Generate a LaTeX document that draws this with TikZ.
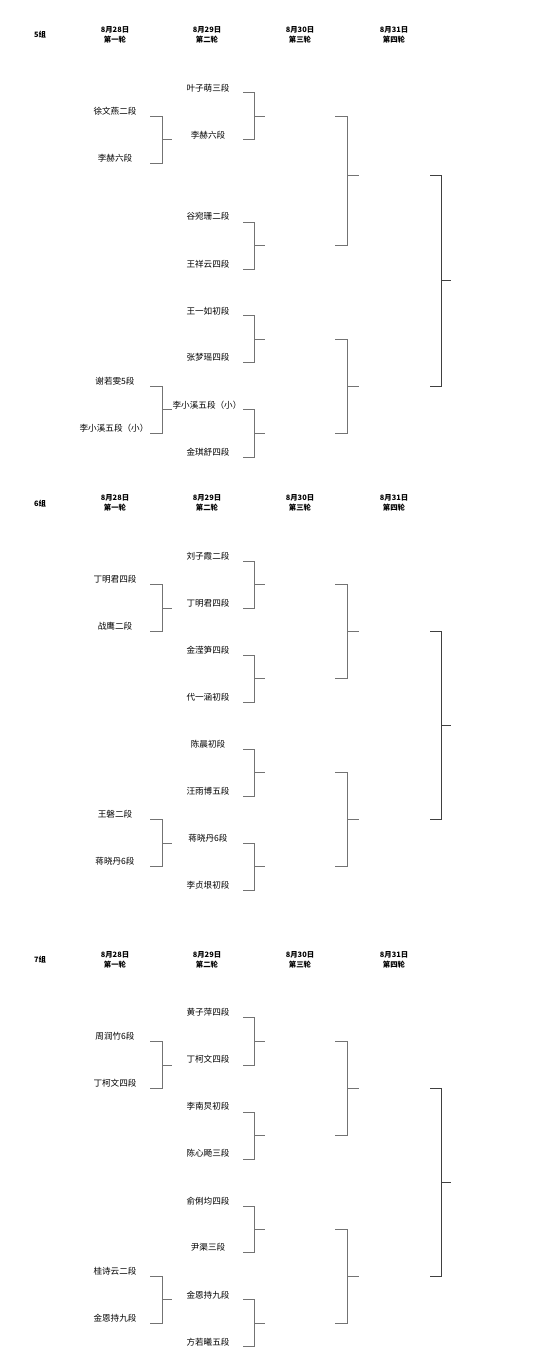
\documentclass[tikz,border=0pt]{standalone}
\usepackage{fontspec}
\newfontfamily\cjk{Noto Sans CJK SC}
\begin{document}
\begin{tikzpicture}[x=1pt,y=-1pt,
  nm/.style={font=\cjk\fontsize{8.6}{9}\selectfont, inner sep=0pt, text=black},
  hd/.style={font=\cjk\bfseries\fontsize{7.4}{10}\selectfont, inner sep=0pt, align=center},
  br/.style={draw=black!55, line width=0.8pt},
  brd/.style={draw=black!75, line width=0.9pt}]
\useasboundingbox (0,0) rectangle (550,1371);
\fill[white] (0,0) rectangle (550,1371);
% bracket macro: #1 x-left, #2 x-vertical, #3 x-tick end, #4 top, #5 bottom, #6 tick y, #7 style
\newcommand\brk[7]{\draw[#7] (#1,#4) -- (#2,#4) -- (#2,#5) -- (#1,#5) (#2,#6) -- (#3,#6);}
\newcommand\heads[2]{%
  \node[hd] (g#1) at (40,#2) {#1组};
  \node[hd] (a#1) at (115,#2) {8月28日\\第一轮};
  \node[hd] (b#1) at (207,#2) {8月29日\\第二轮};
  \node[hd] (c#1) at (300,#2) {8月30日\\第三轮};
  \node[hd] (d#1) at (394,#2) {8月31日\\第四轮};}
% ---------------- group 5
\heads{5}{35}
\node[nm] (s5a) at (115,111) {徐文燕二段};
\node[nm] (s5b) at (115,158) {李赫六段};
\node[nm] (s5c) at (115,381.3) {谢若雯5段};
\node[nm] (s5d) at (114,428.3) {李小溪五段（小）};
\node[nm] (t5a) at (208,88) {叶子萌三段};
\node[nm] (t5b) at (208,135) {李赫六段};
\node[nm] (t5c) at (208,216.7) {谷宛珊二段};
\node[nm] (t5d) at (208,264.3) {王祥云四段};
\node[nm] (t5e) at (208,311) {王一如初段};
\node[nm] (t5f) at (208,357.7) {张梦瑶四段};
\node[nm] (t5g) at (207,405) {李小溪五段（小）};
\node[nm] (t5h) at (208,452.3) {金琪舒四段};
\brk{150}{162}{172}{116}{163}{139.7}{br}
\brk{150}{162}{172}{386.3}{433.3}{409.7}{br}
\brk{243}{254}{265}{92.7}{139.7}{116}{br}
\brk{243}{254}{265}{222.3}{269}{245.7}{br}
\brk{243}{254}{265}{315.7}{362.7}{339.3}{br}
\brk{243}{254}{265}{409.7}{457}{433.3}{br}
\brk{335}{347}{359}{116}{245.7}{175}{br}
\brk{335}{347}{359}{339.3}{433.3}{386.3}{br}
\brk{430}{441}{451}{175}{386.3}{280.7}{brd}
% ---------------- group 6
\heads{6}{503.3}
\node[nm] (s6a) at (115,579.7) {丁明君四段};
\node[nm] (s6b) at (115,626.7) {战鹰二段};
\node[nm] (s6c) at (115,814.7) {王磐二段};
\node[nm] (s6d) at (115,861.7) {蒋晓丹6段};
\node[nm] (t6a) at (208,556) {刘子霞二段};
\node[nm] (t6b) at (208,603.3) {丁明君四段};
\node[nm] (t6c) at (208,650) {金滢笋四段};
\node[nm] (t6d) at (208,697.3) {代一涵初段};
\node[nm] (t6e) at (208,744) {陈晨初段};
\node[nm] (t6f) at (208,791) {汪雨博五段};
\node[nm] (t6g) at (208,838) {蒋晓丹6段};
\node[nm] (t6h) at (208,885) {李贞垠初段};
\brk{150}{162}{172}{584.7}{631.3}{608}{br}
\brk{150}{162}{172}{819.3}{866.7}{843}{br}
\brk{243}{254}{265}{561}{608}{584.7}{br}
\brk{243}{254}{265}{655}{702}{678.7}{br}
\brk{243}{254}{265}{749.3}{796.3}{772.7}{br}
\brk{243}{254}{265}{843}{890}{866.7}{br}
\brk{335}{347}{359}{584.7}{678.7}{631.3}{br}
\brk{335}{347}{359}{772.7}{866.7}{819.3}{br}
\brk{430}{441}{451}{631.3}{819.3}{725.3}{brd}
% ---------------- group 7
\heads{7}{960}
\node[nm] (s7a) at (115,1036.3) {周润竹6段};
\node[nm] (s7b) at (115,1083.3) {丁柯文四段};
\node[nm] (s7c) at (115,1271) {桂诗云二段};
\node[nm] (s7d) at (115,1318.3) {金恩持九段};
\node[nm] (t7a) at (208,1012.7) {黄子萍四段};
\node[nm] (t7b) at (208,1059.3) {丁柯文四段};
\node[nm] (t7c) at (208,1106.7) {李南炅初段};
\node[nm] (t7d) at (208,1153.3) {陈心飏三段};
\node[nm] (t7e) at (208,1200.7) {俞俐均四段};
\node[nm] (t7f) at (208,1247.7) {尹渠三段};
\node[nm] (t7g) at (208,1295) {金恩持九段};
\node[nm] (t7h) at (208,1342) {方若曦五段};
\brk{150}{162}{172}{1041.3}{1088.3}{1065}{br}
\brk{150}{162}{172}{1276}{1323.3}{1299.7}{br}
\brk{243}{254}{265}{1017.7}{1065}{1041.3}{br}
\brk{243}{254}{265}{1112}{1159}{1135.3}{br}
\brk{243}{254}{265}{1206}{1252.7}{1229.3}{br}
\brk{243}{254}{265}{1299.7}{1346.7}{1323.3}{br}
\brk{335}{347}{359}{1041.3}{1135.3}{1088.3}{br}
\brk{335}{347}{359}{1229.3}{1323.3}{1276}{br}
\brk{430}{441}{451}{1088.3}{1276}{1182.3}{brd}
\end{tikzpicture}
\end{document}
